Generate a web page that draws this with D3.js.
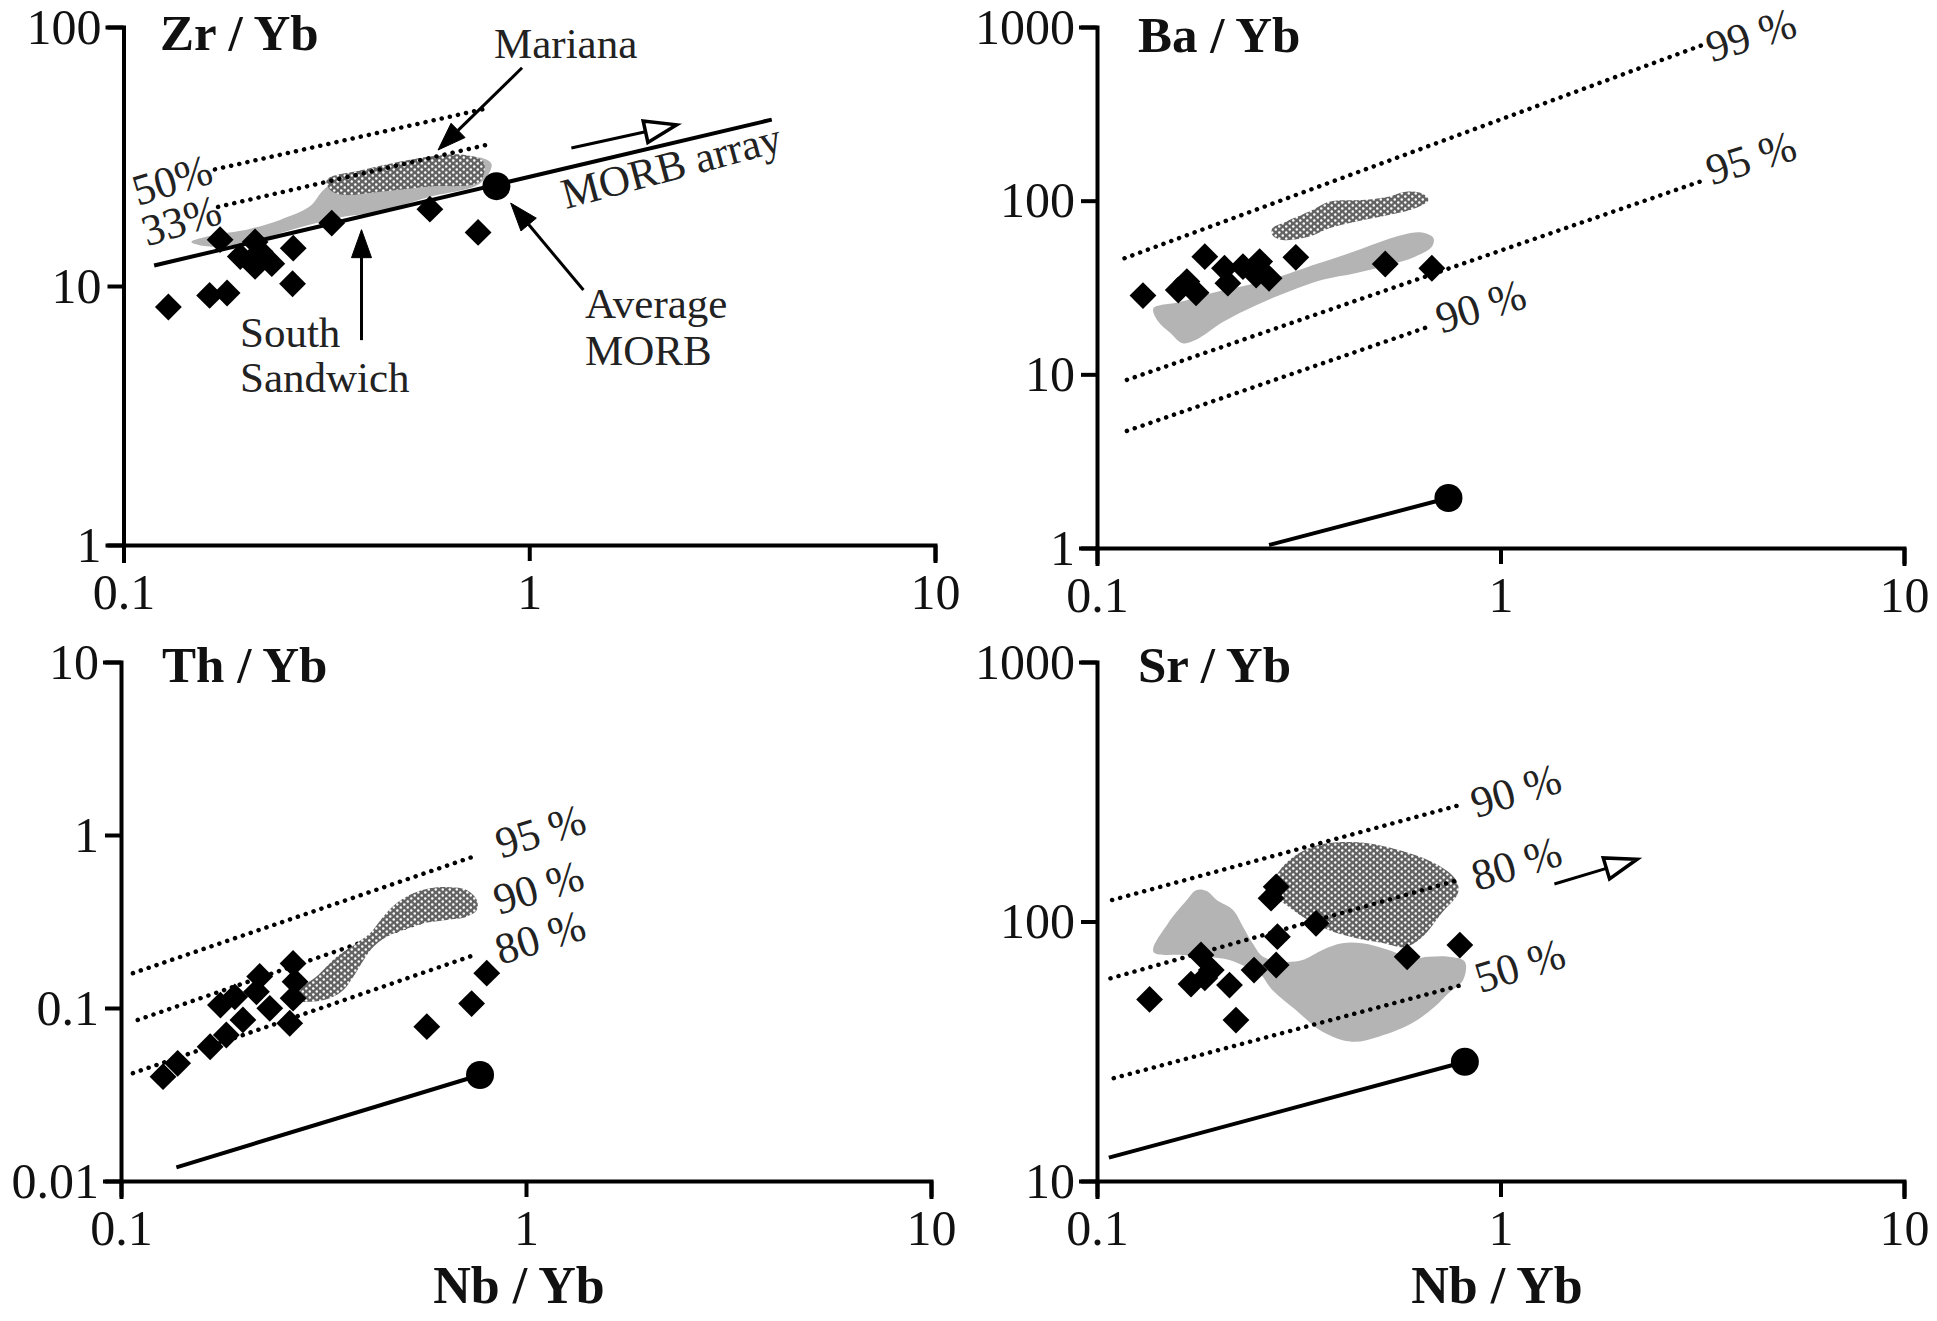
<!DOCTYPE html>
<html>
<head>
<meta charset="utf-8">
<script src="https://cdn.jsdelivr.net/npm/d3@7"></script>
<style>
  body { margin: 0; background: #fff; }
  svg { display: block; font-family: "Liberation Serif", "Times New Roman", serif; }
</style>
</head>
<body>
<div id="chart"></div>
<script>
const W = 1937, H = 1321;

// ---- tick values ----
const xTicks = [0.1, 1, 10];
const zrTicks = [1, 10, 100];
const baTicks = [1, 10, 100, 1000];
const thTicks = [0.01, 0.1, 1, 10];
const srTicks = [10, 100, 1000];

// ---- Zr/Yb ----
const zrPts = [[0.129, 8.3], [0.163, 9.2], [0.180, 9.4], [0.173, 15.1], [0.194, 13.0], [0.211, 14.8],
  [0.207, 12.4], [0.232, 12.2], [0.217, 13.6], [0.211, 11.9], [0.262, 14.0], [0.261, 10.2],
  [0.326, 17.5], [0.569, 19.8], [0.748, 16.1]];
const zrMorbLine = [[0.119, 12.0], [3.96, 43.9]];
const zrMorbAvg = [0.83, 24.3];
const zr50 = [[0.168, 28.2], [0.781, 48.4]];
const zr33 = [[0.171, 20.2], [0.787, 35.1]];
const zrSandwich = [[0.147, 14.8], [0.166, 15.7], [0.201, 16.5], [0.243, 18.0], [0.288, 20.3], [0.311, 23.5],
  [0.335, 25.3], [0.390, 27.3], [0.569, 30.2], [0.771, 31.1], [0.808, 29.4], [0.756, 24.9], [0.569, 22.1],
  [0.429, 19.4], [0.348, 18.5], [0.299, 17.5], [0.243, 16.0], [0.197, 14.6], [0.163, 14.2]];
const zrMariana = [[0.317, 25.7], [0.390, 28.1], [0.569, 31.6], [0.688, 32.1], [0.771, 30.2], [0.756, 25.3],
  [0.569, 24.2], [0.429, 23.1], [0.348, 22.5], [0.323, 23.5]];

// ---- Ba/Yb ----
const baPts = [[0.130, 28.4], [0.159, 30.6], [0.167, 34.2], [0.176, 29.5], [0.185, 47.6], [0.207, 40.8],
  [0.211, 33.5], [0.230, 41.7], [0.253, 44.6], [0.248, 37.3], [0.267, 35.7], [0.311, 47.2],
  [0.518, 43.2], [0.676, 40.8]];
const baMorbLine = [[0.267, 1.04], [0.743, 1.94]];
const baMorbAvg = [0.743, 1.94];
const ba99 = [[0.117, 46.6], [3.19, 793]];
const ba95 = [[0.1186, 9.29], [3.19, 131]];
const ba90 = [[0.1186, 4.72], [0.663, 18.8]];
const baSandwich = [[0.138, 24.0], [0.160, 26.0], [0.194, 29.5], [0.234, 32.5], [0.283, 36.5], [0.342, 42.5],
  [0.413, 49.0], [0.499, 57.5], [0.570, 63.5], [0.638, 65.5], [0.682, 61.0], [0.676, 54.3], [0.614, 47.6],
  [0.528, 42.6], [0.437, 38.2], [0.362, 35.0], [0.299, 30.0], [0.248, 25.0], [0.205, 20.0], [0.176, 15.8],
  [0.163, 15.1], [0.152, 17.3], [0.141, 20.5]];
const baMariana = [[0.272, 69.3], [0.294, 75.7], [0.342, 88.3], [0.376, 98.6], [0.454, 100.9], [0.528, 105.4],
  [0.581, 112.7], [0.638, 110.3], [0.663, 100.9], [0.614, 90.4], [0.528, 82.7], [0.437, 75.7],
  [0.376, 69.3], [0.336, 62.1], [0.288, 59.4], [0.272, 63.5]];

// ---- Th/Yb ----
const thPts = [[0.127, 0.0401], [0.138, 0.0479], [0.166, 0.0597], [0.182, 0.0698], [0.200, 0.0853],
  [0.176, 0.104], [0.191, 0.116], [0.220, 0.152], [0.216, 0.124], [0.233, 0.0996], [0.266, 0.181],
  [0.269, 0.142], [0.266, 0.114], [0.261, 0.0816], [0.569, 0.078], [0.734, 0.106], [0.800, 0.159]];
const thMorbLine = [[0.137, 0.012], [0.770, 0.041]];
const thMorbAvg = [0.770, 0.041];
const th95 = [[0.107, 0.159], [0.741, 0.75]];
const th90 = [[0.110, 0.0853], [0.741, 0.40]];
const th80 = [[0.107, 0.042], [0.748, 0.203]];
const thMariana = [[0.271, 0.111], [0.282, 0.133], [0.304, 0.152], [0.341, 0.198], [0.382, 0.237],
  [0.412, 0.270], [0.444, 0.337], [0.479, 0.403], [0.527, 0.460], [0.579, 0.492], [0.649, 0.499],
  [0.714, 0.481], [0.756, 0.421], [0.756, 0.368], [0.714, 0.337], [0.637, 0.323], [0.558, 0.309],
  [0.498, 0.282], [0.453, 0.258], [0.420, 0.226], [0.397, 0.189], [0.375, 0.152], [0.354, 0.127],
  [0.328, 0.114], [0.298, 0.109]];

// ---- Sr/Yb ----
const srPts = [[0.135, 50.1], [0.171, 57.4], [0.181, 74.3], [0.192, 65.0], [0.185, 60.6], [0.213, 56.9],
  [0.221, 41.7], [0.245, 65.0], [0.278, 68.0], [0.280, 87.4], [0.270, 123], [0.278, 136],
  [0.349, 98.4], [0.587, 73.1], [0.793, 81.1]];
const srMorbLine = [[0.107, 12.3], [0.816, 28.8]];
const srMorbAvg = [0.816, 28.8];
const sr90 = [[0.109, 121], [0.792, 281]];
const sr80 = [[0.108, 60.4], [0.786, 144.5]];
const sr50 = [[0.110, 24.9], [0.801, 56.9]];
const srSandwich = [[0.138, 76.5], [0.150, 98.4], [0.167, 121], [0.176, 132], [0.187, 131], [0.198, 121],
  [0.217, 111], [0.230, 95.5], [0.243, 82.4], [0.258, 73.1], [0.288, 70.0], [0.323, 71.1], [0.362, 77.7],
  [0.405, 82.4], [0.454, 82.4], [0.528, 77.7], [0.603, 72.1], [0.663, 73.1], [0.743, 73.1], [0.816, 70.0],
  [0.808, 59.5], [0.743, 52.9], [0.688, 47.0], [0.603, 40.5], [0.499, 36.0], [0.429, 34.4], [0.362, 37.6],
  [0.311, 45.6], [0.272, 54.5], [0.253, 63.1], [0.234, 66.9], [0.213, 71.1], [0.187, 73.1], [0.163, 74.3]];
const srMariana = [[0.267, 126.5], [0.291, 165], [0.345, 195], [0.442, 202], [0.584, 185], [0.700, 165],
  [0.776, 144.5], [0.785, 129], [0.716, 108], [0.640, 87.1], [0.581, 79.8], [0.510, 82.7], [0.437, 86.4],
  [0.375, 92.7], [0.324, 104], [0.289, 118]];

// ---- annotation arrows (data units) ----
const zrArrowMariana = [[0.96, 69.6], [0.596, 33.5]];
const zrArrowSandwich = [[0.386, 6.18], [0.386, 16.5]];
const zrArrowMorb = [[1.36, 9.65], [0.90, 20.9]];
const zrArrowTrend = [[1.27, 34.1], [2.31, 41.9]];
const srArrowTrend = [[1.36, 139.5], [2.18, 173.7]];

const panels = [
  { title: 'Zr / Yb', tx: 160, ty: 50, xr: [123.5, 935], yr: [545, 27], yd: [1, 100], yTicks: zrTicks,
    pts: zrPts, morb: zrMorbLine, avg: zrMorbAvg, linesOnTop: true,
    fields: [[zrSandwich, '#b4b4b4'], [zrMariana, 'url(#dots)']],
    lines: [[zr50, '50%', 0, [-43, 10]], [zr33, '33%', 0, [-37, 13]]],
    arrows: [[zrArrowMariana, false], [zrArrowSandwich, false], [zrArrowMorb, false], [zrArrowTrend, true]],
    texts: [['Mariana', 494, 58], ['South', 240, 347], ['Sandwich', 240, 392], ['Average', 585, 318], ['MORB', 585, 365]],
    rotText: ['MORB array', 566, 209, -15] },
  { title: 'Ba / Yb', tx: 1138, ty: 52, xr: [1097, 1904], yr: [548, 27], yd: [1, 1000], yTicks: baTicks,
    pts: baPts, morb: baMorbLine, avg: baMorbAvg, linesOnTop: true,
    fields: [[baSandwich, '#b4b4b4'], [baMariana, 'url(#dots)']],
    lines: [[ba99, '99 %', 1, [47, -10]], [ba95, '95 %', 1, [47, -23]], [ba90, '90 %', 1, [52, -21]]],
    arrows: [], texts: [] },
  { title: 'Th / Yb', tx: 162, ty: 682, xr: [121, 931], yr: [1181, 662], yd: [0.01, 10], yTicks: thTicks,
    pts: thPts, morb: thMorbLine, avg: thMorbAvg, linesOnTop: false,
    fields: [[thMariana, 'url(#dots)']],
    lines: [[th95, '95 %', 1, [67, -26]], [th90, '90 %', 1, [65, -17]], [th80, '80 %', 1, [65, -18]]],
    arrows: [], texts: [], xTitle: [519, 1303] },
  { title: 'Sr / Yb', tx: 1138, ty: 682, xr: [1097, 1904], yr: [1181, 662], yd: [10, 1000], yTicks: srTicks,
    pts: srPts, morb: srMorbLine, avg: srMorbAvg, linesOnTop: true,
    fields: [[srSandwich, '#b4b4b4'], [srMariana, 'url(#dots)']],
    lines: [[sr90, '90 %', 1, [56, -15]], [sr80, '80 %', 1, [58, -17]], [sr50, '50 %', 1, [58, -20]]],
    arrows: [[srArrowTrend, true]], texts: [], xTitle: [1497, 1303] }
];

const svg = d3.select('#chart').append('svg').attr('width', W).attr('height', H);

const defs = svg.append('defs');
const pat = defs.append('pattern').attr('id', 'dots').attr('patternUnits', 'userSpaceOnUse')
  .attr('width', 7).attr('height', 6);
pat.append('rect').attr('width', 7).attr('height', 6).attr('fill', '#636363');
pat.append('circle').attr('cx', 1.75).attr('cy', 1.5).attr('r', 1.25).attr('fill', '#fff');
pat.append('circle').attr('cx', 5.25).attr('cy', 4.5).attr('r', 1.25).attr('fill', '#fff');

const drawArrow = (g, a, b, open) => {
  const dx = b[0] - a[0], dy = b[1] - a[1], len = Math.hypot(dx, dy);
  const ux = dx / len, uy = dy / len;
  const L = open ? 32 : 28, hw = open ? 11 : 10;
  const bx = b[0] - ux * L, by = b[1] - uy * L;
  g.append('line').attr('x1', a[0]).attr('y1', a[1]).attr('x2', bx).attr('y2', by)
    .attr('stroke', '#000').attr('stroke-width', 3);
  g.append('path')
    .attr('d', `M${b[0]},${b[1]}L${bx - uy * hw},${by + ux * hw}L${bx + uy * hw},${by - ux * hw}Z`)
    .attr('fill', open ? '#fff' : '#000').attr('stroke', '#000').attr('stroke-width', open ? 3.5 : 1);
};

const styleAxis = (sel) => {
  sel.attr('font-family', '"Liberation Serif", "Times New Roman", serif').attr('font-size', 50);
  sel.select('.domain').attr('stroke-width', 4).attr('stroke-linecap', 'square');
  sel.selectAll('.tick line').attr('stroke-width', 4);
  sel.selectAll('.tick text').attr('fill', '#111');
};

const drawPanel = (p) => {
  const x = d3.scaleLog().domain([0.1, 10]).range(p.xr);
  const y = d3.scaleLog().domain(p.yd).range(p.yr);
  const g = svg.append('g');
  const line = d3.line().x(d => x(d[0])).y(d => y(d[1]));
  const blob = d3.line().x(d => x(d[0])).y(d => y(d[1])).curve(d3.curveCatmullRomClosed.alpha(0.5));

  const drawLines = () => {
    p.lines.forEach(([pts, label, end, off]) => {
      g.append('path').attr('d', line(pts)).attr('fill', 'none').attr('stroke', '#000')
        .attr('stroke-width', 4.5).attr('stroke-dasharray', '0.1 8.2').attr('stroke-linecap', 'round');
      const e = pts[end];
      g.append('text').attr('transform', `translate(${x(e[0]) + off[0]},${y(e[1]) + off[1]}) rotate(-17)`)
        .attr('text-anchor', 'middle').attr('dy', '0.35em').attr('font-size', 44).attr('fill', '#222')
        .text(label);
    });
  };
  const drawFields = () => {
    p.fields.forEach(([pts, fill]) => {
      g.append('path').attr('d', blob(pts)).attr('fill', fill).attr('stroke', 'none');
    });
  };

  if (p.linesOnTop) { drawFields(); drawLines(); } else { drawLines(); drawFields(); }

  // MORB reference line and average MORB
  g.append('path').attr('d', line(p.morb)).attr('fill', 'none').attr('stroke', '#000').attr('stroke-width', 4);
  g.append('circle').attr('cx', x(p.avg[0])).attr('cy', y(p.avg[1])).attr('r', 14).attr('fill', '#000');

  // samples
  g.selectAll('.pt').data(p.pts).enter().append('path').attr('class', 'pt')
    .attr('d', d3.symbol().type(d3.symbolSquare).size(360))
    .attr('transform', d => `translate(${x(d[0])},${y(d[1])}) rotate(45)`)
    .attr('fill', '#000');

  p.arrows.forEach(([pts, open]) => {
    drawArrow(g, [x(pts[0][0]), y(pts[0][1])], [x(pts[1][0]), y(pts[1][1])], open);
  });
  p.texts.forEach(([t, tx, ty]) => {
    g.append('text').attr('x', tx).attr('y', ty).attr('font-size', 43).attr('fill', '#222').text(t);
  });
  if (p.rotText) {
    const [t, tx, ty, r] = p.rotText;
    g.append('text').attr('transform', `translate(${tx},${ty}) rotate(${r})`)
      .attr('font-size', 43).attr('fill', '#222').text(t);
  }

  // axes
  g.append('g').attr('transform', `translate(0,${p.yr[0]})`)
    .call(d3.axisBottom(x).tickValues(xTicks).tickFormat(d => String(d)).tickSize(16).tickPadding(12))
    .call(styleAxis);
  g.append('g').attr('transform', `translate(${p.xr[0]},0)`)
    .call(d3.axisLeft(y).tickValues(p.yTicks).tickFormat(d => String(d)).tickSize(16).tickPadding(6))
    .call(styleAxis);

  g.append('text').attr('x', p.tx).attr('y', p.ty).attr('font-size', 51).attr('font-weight', 'bold')
    .attr('fill', '#111').text(p.title);
  if (p.xTitle) {
    g.append('text').attr('x', p.xTitle[0]).attr('y', p.xTitle[1]).attr('text-anchor', 'middle')
      .attr('font-size', 52).attr('font-weight', 'bold').attr('fill', '#111').text('Nb / Yb');
  }
};

panels.forEach(drawPanel);
</script>
</body>
</html>
